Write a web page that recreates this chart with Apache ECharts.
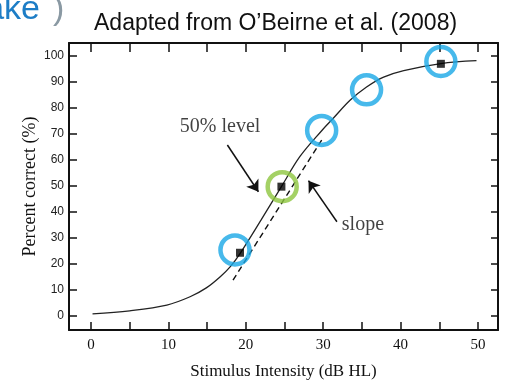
<!DOCTYPE html>
<html>
<head>
<meta charset="utf-8">
<script src="https://cdn.jsdelivr.net/npm/echarts@6/dist/echarts.min.js"></script>
<style>
  html, body { margin: 0; padding: 0; background: #fff; }
  #chart { width: 506px; height: 381px; }
</style>
</head>
<body>
<div id="chart"></div>
<script>
// psychometric curve
const curveX = [0.2, 5, 9.8, 12.8, 14.9, 16.7, 18, 19.3, 22, 24.6, 27, 29.8, 31.3, 33.5, 35.6, 37.8, 40.4, 45.2, 49.8];
const curveY = [0.8, 2, 4.2, 7.4, 10.8, 15.1, 19, 24.2, 37, 49.7, 61.3, 71.2, 76, 83, 88, 91.8, 94.3, 97, 98.1];

// dashed slope line (two ends)
const slopeX = [18.35, 29.8];
const slopeY = [13.8, 67.6];

// measured points (black squares)
const pointX = [19.25, 24.6, 45.2];
const pointY = [24.3, 49.7, 96.9];

// highlight rings
const blueX = [18.6, 29.8, 35.6, 45.2];
const blueY = [25.4, 71.3, 86.9, 97.8];
const greenX = [24.7];
const greenY = [49.7];

// annotation arrows [fromX, fromY, toX, toY]
const arrowLevel = [17.62, 65.7, 21.63, 47.75];
const arrowSlope = [31.77, 36.2, 28.1, 52.0];

// tick values
const xTicks = [0, 5, 10, 15, 20, 25, 30, 35, 40, 45, 50];
const xLabels = [0, 10, 20, 30, 40, 50];
const yTicks = [0, 10, 20, 30, 40, 50, 60, 70, 80, 90, 100];

const zip = (a, b) => a.map((v, i) => [v, b[i]]);
const ring = (color) => ({
  color: 'rgba(0,0,0,0)', borderColor: color, borderWidth: 4.5
});
const axisLine = { show: true, onZero: false, lineStyle: { color: '#111', width: 2 } };
const tick = (vals, len) => ({
  show: true, inside: true, length: len, customValues: vals,
  lineStyle: { color: '#111', width: 1.5 }
});

const chart = echarts.init(document.getElementById('chart'));
chart.setOption({
  animation: false,
  backgroundColor: '#fff',
  title: {
    text: 'Adapted from O\u2019Beirne et al. (2008)',
    left: 89, top: 7,
    textStyle: { fontFamily: 'Liberation Sans', fontSize: 23, fontWeight: 'normal', color: '#111' }
  },
  graphic: [
    { type: 'text', right: 466, top: -7,
      style: { text: 'ake', fontFamily: 'Liberation Sans', fontSize: 34, fill: '#1d7dc6' } },
    { type: 'text', left: 53, top: -7,
      style: { text: ')', fontFamily: 'Liberation Sans', fontSize: 34, fill: '#8a99a3' } }
  ],
  grid: { left: 69, right: 8, top: 43, bottom: 51, outerBoundsMode: 'none' },
  xAxis: [{
    type: 'value', min: -2.84, max: 52.58, position: 'bottom',
    name: 'Stimulus Intensity (dB HL)', nameLocation: 'middle', nameGap: 33, nameMoveOverlap: false,
    nameTextStyle: { fontFamily: 'Liberation Serif', fontSize: 17, color: '#111' },
    axisLine: axisLine, axisTick: tick(xTicks, 8),
    axisLabel: { customValues: xLabels, margin: 8, fontFamily: 'Liberation Serif', fontSize: 15, color: '#111' },
    splitLine: { show: false }
  }, {
    type: 'value', min: -2.84, max: 52.58, position: 'top',
    axisLine: axisLine, axisTick: tick(xTicks, 9),
    axisLabel: { show: false }, splitLine: { show: false }
  }],
  yAxis: [{
    type: 'value', min: -5.38, max: 104.9, position: 'left',
    name: 'Percent correct (%)', nameLocation: 'middle', nameGap: 30, nameMoveOverlap: false,
    nameTextStyle: { fontFamily: 'Liberation Serif', fontSize: 18, color: '#111' },
    axisLine: axisLine, axisTick: tick(yTicks, 8),
    axisLabel: { customValues: yTicks, margin: 5, fontFamily: 'Liberation Sans', fontSize: 12, color: '#222' },
    splitLine: { show: false }
  }, {
    type: 'value', min: -5.38, max: 104.9, position: 'right',
    axisLine: axisLine, axisTick: tick(yTicks, 7),
    axisLabel: { show: false }, splitLine: { show: false }
  }],
  series: [
    {
      type: 'line', data: zip(curveX, curveY), smooth: 0.35,
      symbol: 'none', lineStyle: { color: '#222', width: 1.3 }, z: 2
    },
    {
      type: 'line', data: zip(slopeX, slopeY), symbol: 'none',
      lineStyle: { color: '#111', width: 1.4, type: [6, 4] }, z: 2
    },
    {
      type: 'scatter', data: zip(pointX, pointY), symbol: 'rect', symbolSize: 8,
      itemStyle: { color: '#000' }, z: 4,
      markLine: {
        silent: true, symbol: ['none', 'arrow'], symbolSize: 11,
        label: { show: false },
        lineStyle: { color: '#111', width: 1.5, type: 'solid' },
        emphasis: { disabled: true },
        data: [arrowLevel, arrowSlope].map(a => [{ coord: [a[0], a[1]] }, { coord: [a[2], a[3]] }])
      }
    },
    {
      type: 'scatter', data: zip(blueX, blueY), symbolSize: 29,
      itemStyle: ring('#19a7e6'), z: 5
    },
    {
      type: 'scatter', data: zip(greenX, greenY), symbolSize: 29,
      itemStyle: ring('#8dc63f'), z: 5
    },
    {
      type: 'scatter', symbolSize: 0, z: 6,
      data: [
        { value: [16.68, 72.7], label: { show: true, position: 'inside', formatter: '50% level' } },
        { value: [32.4, 35], label: { show: true, position: 'right', distance: 0, formatter: 'slope' } }
      ],
      label: { fontFamily: 'Liberation Serif', fontSize: 20, color: '#111' }
    }
  ]
});
</script>
</body>
</html>
